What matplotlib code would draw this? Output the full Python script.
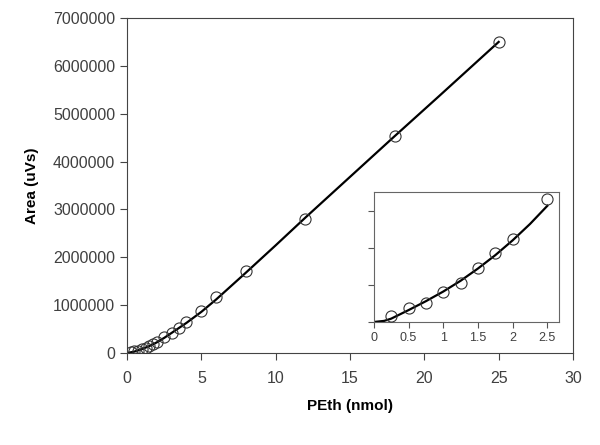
import numpy as np
import matplotlib.pyplot as plt

plt.rcParams['font.family'] = ['Liberation Sans', 'DejaVu Sans']

# measured points
pe_x = [0.25, 0.5, 0.75, 1, 1.25, 1.5, 1.75, 2, 2.5, 3, 3.5, 4, 5, 6, 8, 12, 18, 25]
area_y = [17000, 37000, 52000, 80000, 105000, 145000, 187000, 224000, 330000,
          410000, 520000, 640000, 880000, 1180000, 1710000, 2800000, 4530000, 6500000]

# fitted curve
fit_x = [0, 0.5, 1, 1.5, 2, 2.5, 3, 4, 5, 6, 8, 10, 12, 15, 18, 21, 25]
fit_y = [0, 30000, 82000, 145000, 222000, 316000, 420000, 630000, 860000, 1120000,
         1680000, 2250000, 2830000, 3680000, 4530000, 5370000, 6500000]

# inset (low range)
in_x = pe_x[:9]
in_y = area_y[:9]
in_fit_x = [0, 0.15, 0.25, 0.5, 0.75, 1, 1.25, 1.5, 1.75, 2, 2.25, 2.5]
in_fit_y = [0, 3000, 9000, 32000, 56000, 82000, 111000, 144000, 180000, 220000, 264000, 313000]

fig = plt.figure(figsize=(6, 4.45), dpi=100)
ax = fig.add_axes([0.2117, 0.2067, 0.7433, 0.7529])

ax.plot(fit_x, fit_y, color='black', lw=1.6, zorder=2)
ax.plot(pe_x, area_y, 'o', mfc='none', mec='#333333', mew=0.8, ms=8, zorder=3)
ax.set_xlim(0, 30)
ax.set_ylim(0, 7000000)
ax.set_xticks(np.arange(0, 31, 5))
ax.set_yticks(np.arange(0, 7000001, 1000000))
ax.set_yticklabels([str(v) for v in range(0, 7000001, 1000000)])
ax.tick_params(direction='out', length=5, labelsize=11.5, labelcolor='#404040', color='#444444')
ax.tick_params(axis='x', pad=8)
for s in ax.spines.values():
    s.set_color('#444444')
ax.set_xlabel('PEth (nmol)', fontsize=11, fontweight='bold', labelpad=9)
ax.set_ylabel('Area (uVs)', fontsize=11, fontweight='bold', labelpad=10)

axi = fig.add_axes([0.623, 0.2764, 0.309, 0.2921])
axi.plot(in_fit_x, in_fit_y, color='black', lw=1.6, zorder=2)
axi.plot(in_x, in_y, 'o', mfc='none', mec='#333333', mew=0.8, ms=8, zorder=3, clip_on=False)
axi.set_xlim(0, 2.67)
axi.set_ylim(0, 350000)
axi.set_xticks([0, 0.5, 1, 1.5, 2, 2.5])
axi.set_xticklabels(['0', '0.5', '1', '1.5', '2', '2.5'])
axi.set_yticks([0, 100000, 200000, 300000])
axi.set_yticklabels([])
axi.tick_params(direction='out', length=4, labelsize=9, labelcolor='#404040', color='#555555')
for s in axi.spines.values():
    s.set_color('#666666')

fig.savefig('out.png', dpi=100)
